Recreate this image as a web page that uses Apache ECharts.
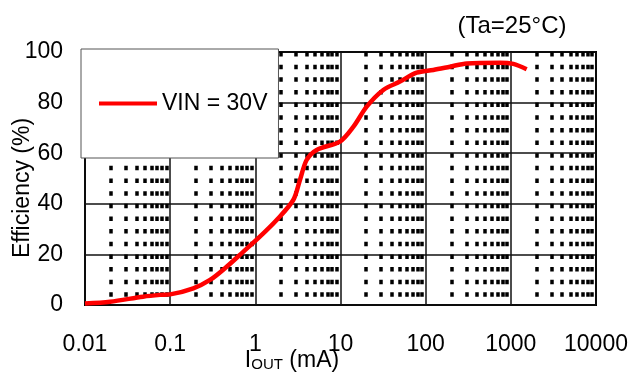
<!DOCTYPE html>
<html>
<head>
<meta charset="utf-8">
<script src="https://cdn.jsdelivr.net/npm/echarts@6/dist/echarts.min.js"></script>
<style>html,body{margin:0;padding:0;background:#fff;}#c{width:632px;height:372px;}</style>
</head>
<body>
<div id="c"></div>
<script>
// ---- data ----
const seriesName = 'VIN = 30V';
const currentMA = [0.01, 0.0197, 0.048, 0.076, 0.1, 0.187, 0.294, 0.46, 0.72, 1.13, 1.78, 2.79, 3.34, 4.0, 5.25, 9.86, 14.2, 20.3, 31.8, 49.9, 78.4, 123, 193, 303, 747, 1070, 1535];
const efficiency = [0.6, 1.3, 3.3, 4.0, 4.2, 6.6, 9.9, 15.1, 21.0, 27.0, 33.6, 41.5, 49.4, 57.3, 61.3, 64.6, 70.5, 78.4, 85.0, 88.3, 91.8, 92.9, 94.2, 95.5, 95.8, 95.3, 93.2];
const xTickLabels = ['0.01', '0.1', '1', '10', '100', '1000', '10000'];
const yTicks = [0, 20, 40, 60, 80, 100];
const minorX = [
  0.02, 0.03, 0.04, 0.05, 0.06, 0.07, 0.08, 0.09,
  0.2, 0.3, 0.4, 0.5, 0.6, 0.7, 0.8, 0.9,
  2, 3, 4, 5, 6, 7, 8, 9,
  20, 30, 40, 50, 60, 70, 80, 90,
  200, 300, 400, 500, 600, 700, 800, 900,
  2000, 3000, 4000, 5000, 6000, 7000, 8000, 9000
];
const tempNote = '(Ta=25°C)';
const yName = 'Efficiency (%)';

const FONT = '"Liberation Sans", Arial, sans-serif';
const chart = echarts.init(document.getElementById('c'), null, {renderer: 'canvas'});
chart.setOption({
  animation: false,
  backgroundColor: '#fff',
  grid: {left: 85, right: 36, top: 52, bottom: 67, show: true, borderColor: '#000', borderWidth: 2, backgroundColor: 'transparent'},
  legend: {
    data: [seriesName], left: 81, top: 49, orient: 'vertical', z: 100, zlevel: 0,
    icon: 'rect', itemWidth: 58, itemHeight: 4, itemGap: 0,
    padding: [43, 11, 43, 18],
    backgroundColor: '#fff', borderColor: '#555', borderWidth: 1,
    textStyle: {fontSize: 23, color: '#000', fontFamily: FONT},
    selectedMode: false
  },
  xAxis: {
    type: 'log', logBase: 10, min: 0.01, max: 10000, splitNumber: 6,
    axisLine: {show: false}, axisTick: {show: false},
    splitLine: {show: true, lineStyle: {color: '#111', width: 1.5}},
    axisLabel: {
      fontSize: 23, color: '#000', fontFamily: FONT, margin: 28,
      formatter: function (v) { return xTickLabels[Math.round(Math.log10(v)) + 2]; }
    }
  },
  yAxis: {
    type: 'value', min: yTicks[0], max: yTicks[yTicks.length - 1], interval: 20,
    axisLine: {show: false}, axisTick: {show: false},
    splitLine: {show: true, lineStyle: {color: '#111', width: 1.5}},
    axisLabel: {fontSize: 23, color: '#000', fontFamily: FONT, margin: 22}
  },
  graphic: [
    {type: 'text', x: 512, y: 26, z: 10, style: {text: tempNote, fontSize: 24, fontFamily: FONT, fill: '#000', align: 'center', verticalAlign: 'middle'}},
    {type: 'text', x: 23, y: 188, rotation: Math.PI / 2, z: 10, style: {text: yName, fontSize: 23, fontFamily: FONT, fill: '#000', align: 'center', verticalAlign: 'middle'}},
    {type: 'text', x: 292, y: 361, z: 10, style: {
      text: '{a|I}{b|OUT}{c| (mA)}', align: 'center', verticalAlign: 'middle', fill: '#000',
      rich: {
        a: {fontSize: 23, fontFamily: FONT, lineHeight: 23, verticalAlign: 'bottom', fill: '#000'},
        b: {fontSize: 15, fontFamily: FONT, lineHeight: 19, verticalAlign: 'bottom', fill: '#000'},
        c: {fontSize: 23, fontFamily: FONT, lineHeight: 23, verticalAlign: 'bottom', fill: '#000'}
      }
    }}
  ],
  series: [
    {
      name: 'minor', type: 'line', data: [], silent: true, z: 1,
      markLine: {
        silent: true, symbol: 'none', animation: false, z: 1,
        label: {show: false},
        lineStyle: {color: '#000', width: 3.5, type: [4.5, 8.15]},
        data: minorX.map(v => [{coord: [v, yTicks[yTicks.length - 1]]}, {coord: [v, yTicks[0]]}])
      }
    },
    {
      name: seriesName, type: 'line', showSymbol: false, symbol: 'none', smooth: 0.3,
      data: currentMA.map((x, i) => [x, efficiency[i]]),
      lineStyle: {color: '#ff0000', width: 4.5}, itemStyle: {color: '#ff0000'}, z: 5
    }
  ]
});
</script>
</body>
</html>
